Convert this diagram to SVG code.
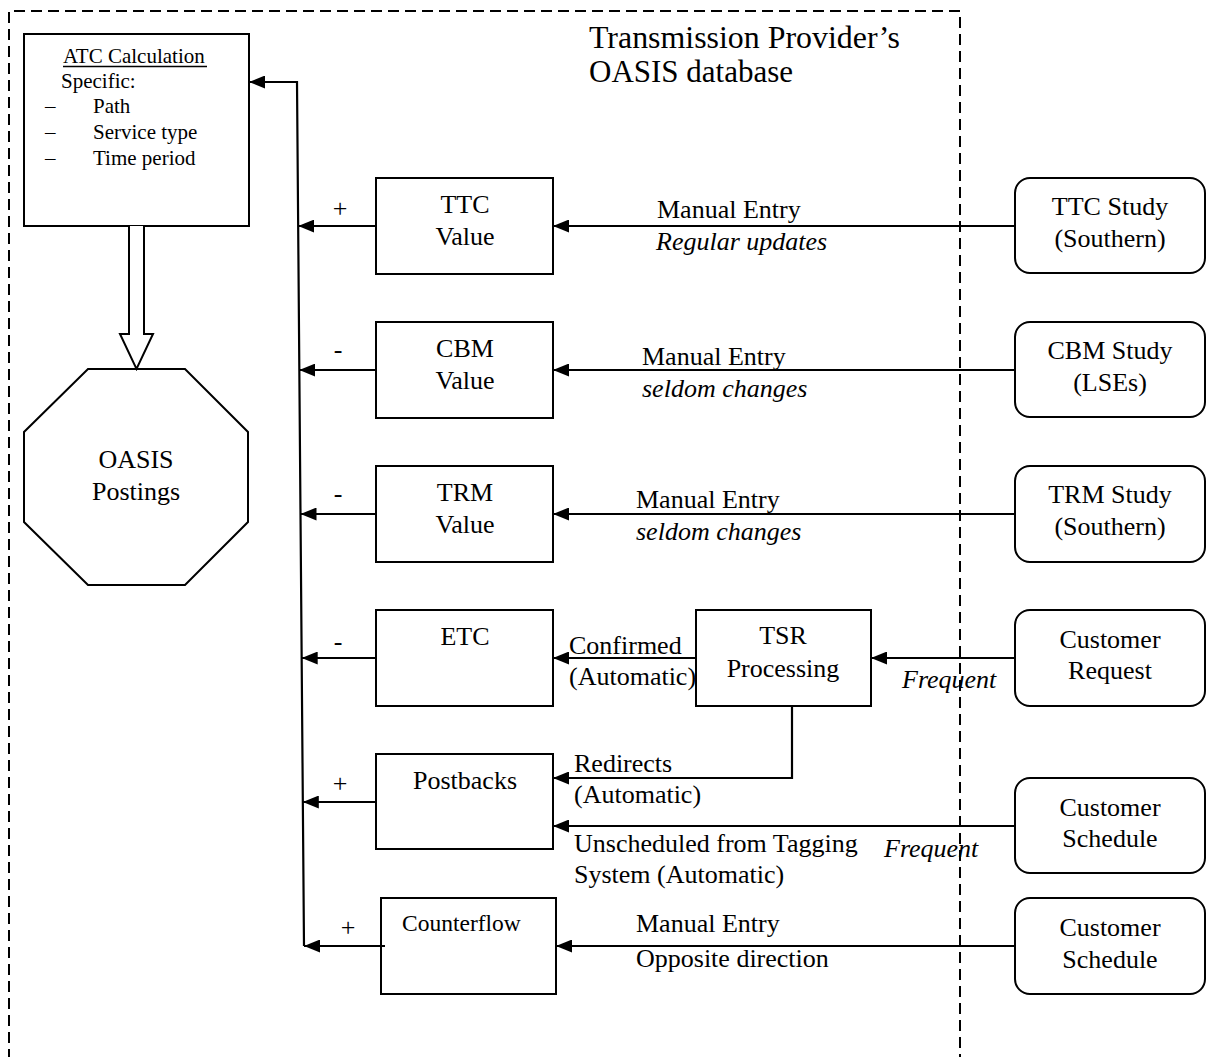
<svg xmlns="http://www.w3.org/2000/svg" width="1208" height="1057" viewBox="0 0 1208 1057">
<style>
text{font-family:"Liberation Serif","Times New Roman",serif;fill:#000}
.t26{font-size:26px}
.t21{font-size:21px}
.it{font-style:italic}
.mid{text-anchor:middle}
.box{fill:#fff;stroke:#000;stroke-width:2}
.conn{fill:none;stroke:#000;stroke-width:2.2}
.dash{fill:none;stroke:#000;stroke-width:2;stroke-dasharray:11 6}
.title{font-size:31px}
</style>
<defs>
<marker id="ah" markerUnits="userSpaceOnUse" markerWidth="17" markerHeight="13" refX="16" refY="6.5" orient="auto">
<path d="M0,0 L16,6.5 L0,13 z" fill="#000"/>
</marker>
</defs>
<rect width="1208" height="1057" fill="#fff"/>

<g id="database-boundary">
<path class="dash" d="M9,1060 L9,11 L960,11 L960,1060"/>
<text class="title" x="589" y="48" textLength="311" lengthAdjust="spacingAndGlyphs">Transmission Provider’s</text>
<text class="title" x="589" y="82">OASIS database</text>
</g>

<g id="atc-calculation">
<rect class="box" x="24" y="34" width="225" height="192"/>
<text class="t21" x="63" y="63">ATC Calculation</text>
<line x1="63" y1="66.5" x2="207" y2="66.5" stroke="#000" stroke-width="1.5"/>
<text class="t21" x="61" y="88">Specific:</text>
<text class="t21" x="45" y="113">–</text><text class="t21" x="93" y="113">Path</text>
<text class="t21" x="45" y="139">–</text><text class="t21" x="93" y="139">Service type</text>
<text class="t21" x="45" y="165">–</text><text class="t21" x="93" y="165">Time period</text>
</g>

<g id="oasis-postings">
<polygon class="box" points="88,369 185,369 248,432 248,522 185,585 88,585 24,522 24,432"/>
<text class="t26 mid" x="136" y="468">OASIS</text>
<text class="t26 mid" x="136" y="500">Postings</text>
</g>

<g id="ttc-value">
<rect class="box" x="376" y="178" width="177" height="96"/>
<text class="t26 mid" x="465" y="213">TTC</text>
<text class="t26 mid" x="465" y="245">Value</text>
</g>
<g id="cbm-value">
<rect class="box" x="376" y="322" width="177" height="96"/>
<text class="t26 mid" x="465" y="357">CBM</text>
<text class="t26 mid" x="465" y="389">Value</text>
</g>
<g id="trm-value">
<rect class="box" x="376" y="466" width="177" height="96"/>
<text class="t26 mid" x="465" y="501">TRM</text>
<text class="t26 mid" x="465" y="533">Value</text>
</g>
<g id="etc">
<rect class="box" x="376" y="610" width="177" height="96"/>
<text class="t26 mid" x="465" y="645">ETC</text>
</g>
<g id="postbacks">
<rect class="box" x="376" y="754" width="177" height="95"/>
<text class="t26 mid" x="465" y="789">Postbacks</text>
</g>
<g id="counterflow">
<rect class="box" x="381" y="898" width="175" height="96"/>
<text x="402" y="931" style="font-size:23.5px">Counterflow</text>
</g>
<g id="tsr-processing">
<rect class="box" x="696" y="610" width="175" height="96"/>
<text class="t26 mid" x="783" y="644">TSR</text>
<text class="t26 mid" x="783" y="677">Processing</text>
</g>

<g id="ttc-study">
<rect class="box" x="1015" y="178" width="190" height="95" rx="15"/>
<text class="t26 mid" x="1110" y="215">TTC Study</text>
<text class="t26 mid" x="1110" y="247">(Southern)</text>
</g>
<g id="cbm-study">
<rect class="box" x="1015" y="322" width="190" height="95" rx="15"/>
<text class="t26 mid" x="1110" y="359">CBM Study</text>
<text class="t26 mid" x="1110" y="391">(LSEs)</text>
</g>
<g id="trm-study">
<rect class="box" x="1015" y="466" width="190" height="96" rx="15"/>
<text class="t26 mid" x="1110" y="503">TRM Study</text>
<text class="t26 mid" x="1110" y="535">(Southern)</text>
</g>
<g id="customer-request">
<rect class="box" x="1015" y="610" width="190" height="96" rx="15"/>
<text class="t26 mid" x="1110" y="648">Customer</text>
<text class="t26 mid" x="1110" y="679">Request</text>
</g>
<g id="customer-schedule-1">
<rect class="box" x="1015" y="778" width="190" height="95" rx="15"/>
<text class="t26 mid" x="1110" y="816">Customer</text>
<text class="t26 mid" x="1110" y="847">Schedule</text>
</g>
<g id="customer-schedule-2">
<rect class="box" x="1015" y="898" width="190" height="96" rx="15"/>
<text class="t26 mid" x="1110" y="936">Customer</text>
<text class="t26 mid" x="1110" y="968">Schedule</text>
</g>

<g id="connectors">
<path class="conn" d="M304,946 L297,82 L249,82" marker-end="url(#ah)"/>
<path d="M129,226 L129,334 L120,334 L136.5,369 L153,334 L144,334 L144,226" fill="#fff" stroke="#000" stroke-width="2" stroke-linejoin="miter"/>
<line class="conn" x1="376" y1="226" x2="298.2" y2="226" marker-end="url(#ah)"/>
<line class="conn" x1="376" y1="370" x2="299.3" y2="370" marker-end="url(#ah)"/>
<line class="conn" x1="376" y1="514" x2="300.5" y2="514" marker-end="url(#ah)"/>
<line class="conn" x1="376" y1="658" x2="301.7" y2="658" marker-end="url(#ah)"/>
<line class="conn" x1="376" y1="802" x2="302.8" y2="802" marker-end="url(#ah)"/>
<line class="conn" x1="385" y1="946" x2="304" y2="946" marker-end="url(#ah)"/>
<line class="conn" x1="1015" y1="226" x2="553" y2="226" marker-end="url(#ah)"/>
<line class="conn" x1="1015" y1="370" x2="553" y2="370" marker-end="url(#ah)"/>
<line class="conn" x1="1015" y1="514" x2="553" y2="514" marker-end="url(#ah)"/>
<line class="conn" x1="1015" y1="658" x2="871" y2="658" marker-end="url(#ah)"/>
<line class="conn" x1="696" y1="658" x2="553" y2="658" marker-end="url(#ah)"/>
<path class="conn" d="M792,706 L792,778 L553,778" marker-end="url(#ah)"/>
<line class="conn" x1="1015" y1="826" x2="553" y2="826" marker-end="url(#ah)"/>
<line class="conn" x1="1015" y1="946" x2="556" y2="946" marker-end="url(#ah)"/>

<text class="t26 mid" x="340" y="217">+</text>
<text class="t26 mid" x="338" y="358">-</text>
<text class="t26 mid" x="338" y="502">-</text>
<text class="t26 mid" x="338" y="650">-</text>
<text class="t26 mid" x="340" y="792">+</text>
<text class="t26 mid" x="348" y="936">+</text>

<text class="t26" x="657" y="218">Manual Entry</text>
<text class="t26 it" x="656" y="250">Regular updates</text>
<text class="t26" x="642" y="365">Manual Entry</text>
<text class="t26 it" x="642" y="397">seldom changes</text>
<text class="t26" x="636" y="508">Manual Entry</text>
<text class="t26 it" x="636" y="540">seldom changes</text>
<text class="t26" x="569" y="654">Confirmed</text>
<text class="t26" x="569" y="685">(Automatic)</text>
<text class="t26 it" x="902" y="688">Frequent</text>
<text class="t26" x="574" y="772">Redirects</text>
<text class="t26" x="574" y="803">(Automatic)</text>
<text class="t26" x="574" y="852">Unscheduled from Tagging</text>
<text class="t26" x="574" y="883">System (Automatic)</text>
<text class="t26 it" x="884" y="857">Frequent</text>
<text class="t26" x="636" y="932">Manual Entry</text>
<text class="t26" x="636" y="967">Opposite direction</text>
</g>
</svg>
